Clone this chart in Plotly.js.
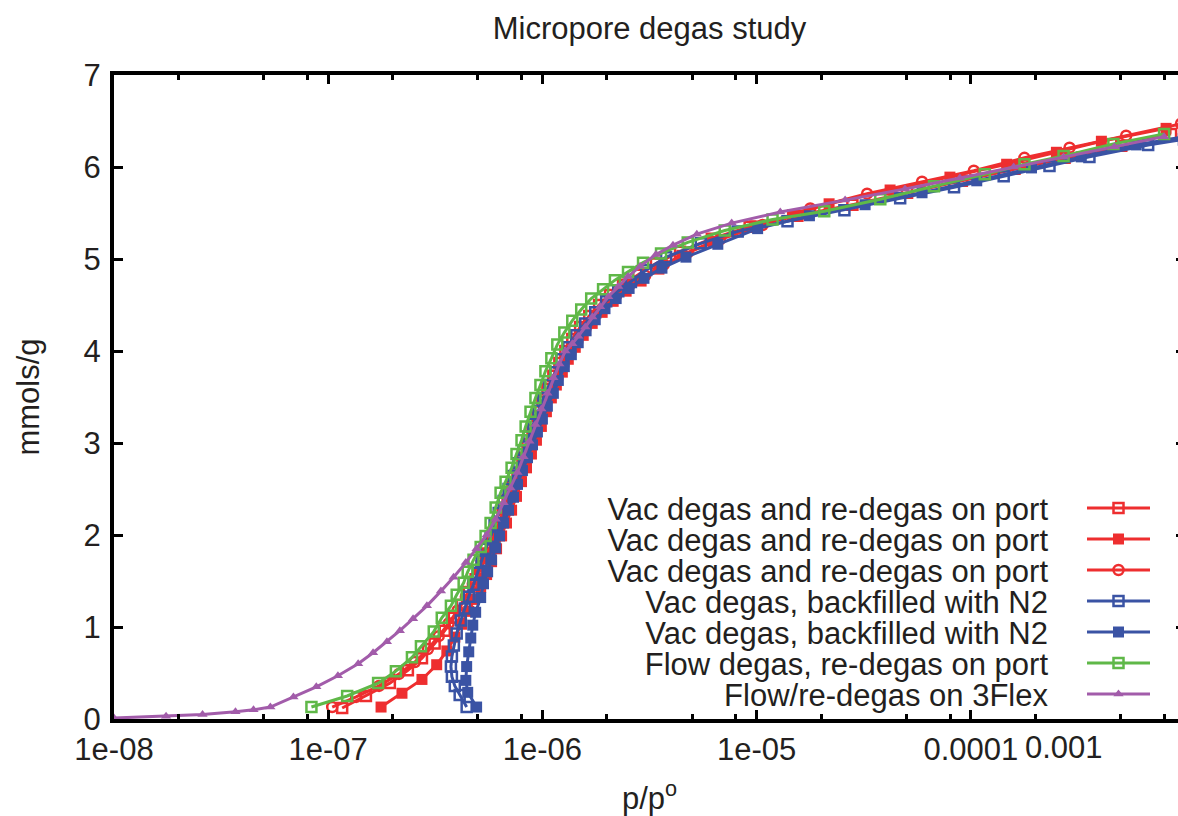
<!DOCTYPE html>
<html>
<head>
<meta charset="utf-8">
<script src="https://cdn.plot.ly/plotly-3.0.1.min.js"></script>
<style>
html,body{margin:0;padding:0;background:#fff;overflow:hidden;width:1178px;height:816px}
#chart{width:1190px;height:816px}
</style>
</head>
<body>
<div id="chart"></div>
<script>
// ---------- data ----------
var seriesNames = [
  'Vac degas and re-degas on port',
  'Vac degas and re-degas on port',
  'Vac degas and re-degas on port',
  'Vac degas, backfilled with N2',
  'Vac degas, backfilled with N2',
  'Flow degas, re-degas on port',
  'Flow/re-degas on 3Flex'
];

var vacOpenX = [1.162e-7,1.50e-7,1.94e-7,2.355e-7,2.74e-7,3.14e-7,3.50e-7,3.86e-7,4.20e-7,4.53e-7,4.88e-7,5.20e-7,5.55e-7,5.85e-7,6.18e-7,6.52e-7,6.88e-7,7.25e-7,7.65e-7,8.07e-7,8.52e-7,8.99e-7,9.48e-7,1.00e-6,1.055e-6,1.125e-6,1.20e-6,1.28e-6,1.379e-6,1.50e-6,1.655e-6,1.84e-6,2.07e-6,2.38e-6,2.80e-6,3.39e-6,4.39e-6,6.18e-6,9.28e-6,1.55e-5,2.80e-5,5.04e-5,9.08e-5,1.60e-4,2.74e-4,5.04e-4,8.61e-4];
var vacOpenY = [0.12,0.25,0.39,0.53,0.66,0.82,0.96,1.10,1.24,1.38,1.52,1.66,1.80,1.95,2.09,2.23,2.38,2.53,2.68,2.84,2.99,3.14,3.29,3.45,3.59,3.73,3.87,4.00,4.13,4.26,4.38,4.50,4.61,4.72,4.83,4.95,5.08,5.22,5.35,5.47,5.59,5.72,5.85,5.98,6.10,6.23,6.36];

var vacFillX = [1.765e-7,2.21e-7,2.74e-7,3.21e-7,3.58e-7,3.90e-7,4.20e-7,4.53e-7,4.82e-7,5.15e-7,5.49e-7,5.79e-7,6.11e-7,6.45e-7,6.80e-7,7.18e-7,7.57e-7,7.99e-7,8.43e-7,8.89e-7,9.38e-7,9.89e-7,1.044e-6,1.101e-6,1.162e-6,1.239e-6,1.321e-6,1.424e-6,1.551e-6,1.708e-6,1.901e-6,2.14e-6,2.46e-6,2.89e-6,3.50e-6,4.48e-6,6.25e-6,9.79e-6,1.47e-5,2.18e-5,4.20e-5,7.99e-5,1.47e-4,2.51e-4,4.07e-4,8.16e-4];
var vacFillY = [0.13,0.28,0.43,0.59,0.74,0.89,1.03,1.17,1.30,1.43,1.57,1.71,1.85,1.99,2.13,2.27,2.42,2.58,2.73,2.88,3.03,3.18,3.34,3.49,3.63,3.77,3.91,4.04,4.17,4.30,4.42,4.54,4.65,4.76,4.89,5.04,5.19,5.36,5.48,5.60,5.75,5.89,6.03,6.16,6.28,6.42];

var vacCircX = [1.044e-7,1.35e-7,1.727e-7,2.14e-7,2.54e-7,2.92e-7,3.28e-7,3.65e-7,4.02e-7,4.39e-7,4.73e-7,5.10e-7,5.43e-7,5.79e-7,6.18e-7,6.52e-7,6.95e-7,7.33e-7,7.82e-7,8.25e-7,8.70e-7,9.28e-7,9.79e-7,1.033e-6,1.101e-6,1.174e-6,1.252e-6,1.35e-6,1.455e-6,1.585e-6,1.745e-6,1.94e-6,2.21e-6,2.54e-6,3.02e-6,3.69e-6,4.77e-6,6.73e-6,1.066e-5,1.78e-5,3.28e-5,5.92e-5,1.033e-4,1.78e-4,2.89e-4,5.31e-4,9.58e-4];
var vacCircY = [0.13,0.24,0.36,0.49,0.62,0.76,0.90,1.04,1.18,1.33,1.47,1.61,1.75,1.89,2.03,2.18,2.34,2.49,2.64,2.79,2.95,3.10,3.25,3.40,3.55,3.70,3.84,3.97,4.10,4.23,4.36,4.48,4.60,4.71,4.82,4.94,5.07,5.21,5.37,5.55,5.71,5.84,5.96,6.10,6.21,6.34,6.47];

var n2OpenX = [4.43e-7,4.11e-7,3.90e-7,3.78e-7,3.74e-7,3.78e-7,3.86e-7,3.98e-7,4.16e-7,4.34e-7,4.53e-7,4.77e-7,4.985e-7,5.20e-7,5.43e-7,5.73e-7,5.98e-7,6.25e-7,6.59e-7,6.95e-7,7.33e-7,7.73e-7,8.16e-7,8.61e-7,9.08e-7,9.58e-7,1.011e-6,1.078e-6,1.149e-6,1.226e-6,1.321e-6,1.439e-6,1.585e-6,1.765e-6,1.985e-6,2.26e-6,2.59e-6,3.05e-6,3.78e-6,5.49e-6,8.16e-6,1.394e-5,2.57e-5,4.68e-5,8.35e-5,1.424e-4,2.33e-4,3.58e-4,6.73e-4,9.89e-4];
var n2OpenY = [0.13,0.26,0.36,0.46,0.57,0.68,0.80,0.93,1.07,1.20,1.33,1.46,1.59,1.72,1.85,1.98,2.11,2.24,2.37,2.50,2.64,2.78,2.92,3.07,3.21,3.35,3.49,3.63,3.77,3.91,4.04,4.17,4.30,4.42,4.54,4.65,4.75,4.88,5.02,5.17,5.30,5.41,5.53,5.66,5.78,5.90,6.01,6.11,6.24,6.30];

var n2FillX = [4.93e-7,4.48e-7,4.39e-7,4.43e-7,4.53e-7,4.63e-7,4.73e-7,4.88e-7,5.15e-7,5.31e-7,5.55e-7,5.79e-7,6.05e-7,6.31e-7,6.59e-7,6.95e-7,7.33e-7,7.65e-7,8.07e-7,8.52e-7,8.99e-7,9.48e-7,1.00e-6,1.055e-6,1.125e-6,1.187e-6,1.266e-6,1.365e-6,1.47e-6,1.60e-6,1.765e-6,1.96e-6,2.21e-6,2.54e-6,2.98e-6,3.615e-6,4.68e-6,6.59e-6,1.011e-5,1.765e-5,3.21e-5,5.92e-5,1.066e-4,1.92e-4,3.28e-4,5.92e-4,9.89e-4];
var n2FillY = [0.13,0.29,0.42,0.57,0.73,0.88,1.02,1.16,1.32,1.47,1.60,1.73,1.86,1.99,2.13,2.27,2.41,2.55,2.70,2.84,2.98,3.12,3.26,3.40,3.54,3.68,3.83,3.96,4.09,4.22,4.34,4.46,4.57,4.68,4.79,4.90,5.02,5.16,5.33,5.47,5.59,5.72,5.85,5.99,6.11,6.24,6.33];

var flowX = [8.35e-8,1.226e-7,1.71e-7,2.07e-7,2.46e-7,2.71e-7,3.11e-7,3.39e-7,3.74e-7,3.98e-7,4.29e-7,4.48e-7,4.77e-7,5.15e-7,5.43e-7,5.73e-7,6.05e-7,6.38e-7,6.73e-7,7.18e-7,7.57e-7,7.99e-7,8.35e-7,8.80e-7,9.28e-7,9.79e-7,1.033e-6,1.101e-6,1.174e-6,1.266e-6,1.379e-6,1.518e-6,1.69e-6,1.92e-6,2.18e-6,2.51e-6,2.95e-6,3.58e-6,4.77e-6,7.10e-6,1.187e-5,2.07e-5,3.78e-5,6.73e-5,1.162e-4,1.78e-4,2.71e-4,4.63e-4,7.99e-4];
var flowY = [0.13,0.25,0.39,0.52,0.67,0.79,0.95,1.10,1.23,1.35,1.48,1.60,1.73,1.87,1.99,2.13,2.30,2.46,2.58,2.73,2.88,3.03,3.18,3.34,3.49,3.63,3.78,3.92,4.07,4.20,4.33,4.45,4.57,4.67,4.77,4.86,4.96,5.06,5.18,5.31,5.43,5.52,5.65,5.79,5.92,6.03,6.12,6.25,6.36];

var flexX = [1.00e-8,1.75e-8,2.59e-8,3.69e-8,4.48e-8,5.37e-8,6.88e-8,8.80e-8,1.11e-7,1.38e-7,1.62e-7,1.88e-7,2.16e-7,2.49e-7,2.89e-7,3.36e-7,3.85e-7,4.39e-7,4.93e-7,5.49e-7,6.05e-7,6.59e-7,7.10e-7,7.65e-7,8.16e-7,8.70e-7,9.28e-7,9.89e-7,1.055e-6,1.125e-6,1.20e-6,1.28e-6,1.38e-6,1.47e-6,1.585e-6,1.71e-6,1.86e-6,2.03e-6,2.26e-6,2.51e-6,2.86e-6,3.39e-6,4.07e-6,5.26e-6,7.65e-6,1.29e-5,2.59e-5,4.93e-5,8.89e-5,1.585e-4,2.71e-4,4.68e-4,7.99e-4];
var flexY = [0.01,0.03,0.05,0.08,0.10,0.13,0.24,0.35,0.47,0.60,0.72,0.84,0.96,1.09,1.23,1.39,1.54,1.70,1.85,2.00,2.17,2.35,2.51,2.68,2.85,3.02,3.20,3.37,3.54,3.71,3.86,4.00,4.08,4.16,4.26,4.37,4.48,4.59,4.70,4.81,4.92,5.05,5.15,5.27,5.39,5.51,5.64,5.76,5.88,6.00,6.11,6.22,6.33];

var xTickVals = [1e-8, 1e-7, 1e-6, 1e-5, 1e-4];
var xTickText = ['1e-08', '1e-07', '1e-06', '1e-05', '0.0001'];
var xMinorVals = [2e-8,5e-8,8e-8,2e-7,5e-7,8e-7,2e-6,5e-6,8e-6,2e-5,5e-5,8e-5,2e-4,5e-4,8e-4];
var xExtraLabel = '0.001';
var yTickVals = [0,1,2,3,4,5,6,7];

// ---------- styles ----------
var RED = '#ee2e2f', BLUE = '#3a53a4', GREEN = '#5fb848', PURPLE = '#a25caa';
var FONT = '"Liberation Sans", Arial, Helvetica, sans-serif';
var TXT = '#231f20';

function tr(x, y, name, color, symbol, size, lw) {
  return {
    type: 'scatter', mode: 'lines+markers', x: x, y: y, name: name,
    line: {color: color, width: 3},
    marker: {symbol: symbol, size: size, color: color, line: {color: color, width: lw}}
  };
}

var data = [
  tr(vacOpenX, vacOpenY, seriesNames[0], RED, 'square-open', 10, 2.5),
  tr(vacFillX, vacFillY, seriesNames[1], RED, 'square', 11, 0),
  tr(vacCircX, vacCircY, seriesNames[2], RED, 'circle-open', 10, 2.5),
  tr(n2OpenX, n2OpenY, seriesNames[3], BLUE, 'square-open', 10, 2.5),
  tr(n2FillX, n2FillY, seriesNames[4], BLUE, 'square', 11, 0),
  tr(flowX, flowY, seriesNames[5], GREEN, 'square-open', 10, 2.5),
  tr(flexX, flexY, seriesNames[6], PURPLE, 'triangle-up', 9, 0)
];

var axisCommon = {
  ticks: 'inside', ticklen: 9, tickwidth: 3, tickcolor: '#000',
  showline: true, linewidth: 4, linecolor: '#000', mirror: 'ticks',
  showgrid: false, zeroline: false, automargin: false,
  tickfont: {family: FONT, size: 31, color: TXT}
};

var layout = {
  width: 1190, height: 816,
  margin: {l: 114, r: 5, t: 75, b: 97, pad: 0},
  paper_bgcolor: '#ffffff', plot_bgcolor: '#ffffff',
  font: {family: FONT, size: 31, color: TXT},
  title: {text: 'Micropore degas study', x: 0.5, xref: 'paper', xanchor: 'center',
          y: 0.965, yref: 'container', yanchor: 'middle', font: {family: FONT, size: 31, color: TXT}},
  showlegend: true,
  legend: {x: 0.3, y: 0.6, xanchor: 'left', yanchor: 'top', bgcolor: 'rgba(0,0,0,0)',
           borderwidth: 0, font: {family: FONT, size: 31, color: TXT}, traceorder: 'normal'},
  xaxis: Object.assign({}, axisCommon, {
    type: 'log', range: [-8, -3],
    tickmode: 'array', tickvals: xTickVals, ticktext: xTickText,
    minor: {tickvals: xMinorVals, ticks: 'inside', ticklen: 5, tickwidth: 3, tickcolor: '#000', showgrid: false},
    title: {text: 'p/p<sup>o</sup>', standoff: 25, font: {family: FONT, size: 31, color: TXT}}
  }),
  yaxis: Object.assign({}, axisCommon, {
    range: [0, 7], tickmode: 'array', tickvals: yTickVals, ticklabelstandoff: 3,
    title: {text: 'mmols/g', standoff: 36, font: {family: FONT, size: 31, color: TXT}}
  }),
  annotations: [{
    text: xExtraLabel, xref: 'paper', yref: 'paper', x: 0.887, y: -0.045,
    xanchor: 'center', yanchor: 'middle', showarrow: false,
    font: {family: FONT, size: 31, color: TXT}
  }]
};

// legend placement (text right-aligned, sample to the right, as in the reference)
var LEG_X = 1087, LEG_Y = 508, ROW = 31, TEXT_X = -39, LINE_W = 63;

Plotly.newPlot('chart', data, layout, {displayModeBar: false, staticPlot: true}).then(function (gd) {
  var leg = gd.querySelector('g.legend');
  if (!leg) return;
  leg.setAttribute('transform', 'translate(' + LEG_X + ',' + LEG_Y + ')');
  leg.querySelectorAll('[clip-path]').forEach(function (e) { e.removeAttribute('clip-path'); });
  var bg = leg.querySelector('rect.bg'); if (bg) bg.style.display = 'none';
  leg.querySelectorAll('g.scrollbox, g.groups').forEach(function (g) { g.setAttribute('transform', 'translate(0,0)'); });
  leg.querySelectorAll('g.traces').forEach(function (it, i) {
    it.setAttribute('transform', 'translate(0,' + (i * ROW) + ')');
    var t = it.querySelector('text.legendtext');
    if (t) {
      t.setAttribute('text-anchor', 'end');
      t.style.textAnchor = 'end';
      t.setAttribute('x', TEXT_X);
      t.querySelectorAll('tspan').forEach(function (s) { if (s.hasAttribute('x')) s.setAttribute('x', TEXT_X); });
    }
    it.querySelectorAll('.legendlines path').forEach(function (p) { p.setAttribute('d', 'M0,0h' + LINE_W); });
    it.querySelectorAll('.legendpoints path').forEach(function (p) { p.setAttribute('transform', 'translate(' + (LINE_W / 2) + ',0)'); });
  });
});
</script>
</body>
</html>
